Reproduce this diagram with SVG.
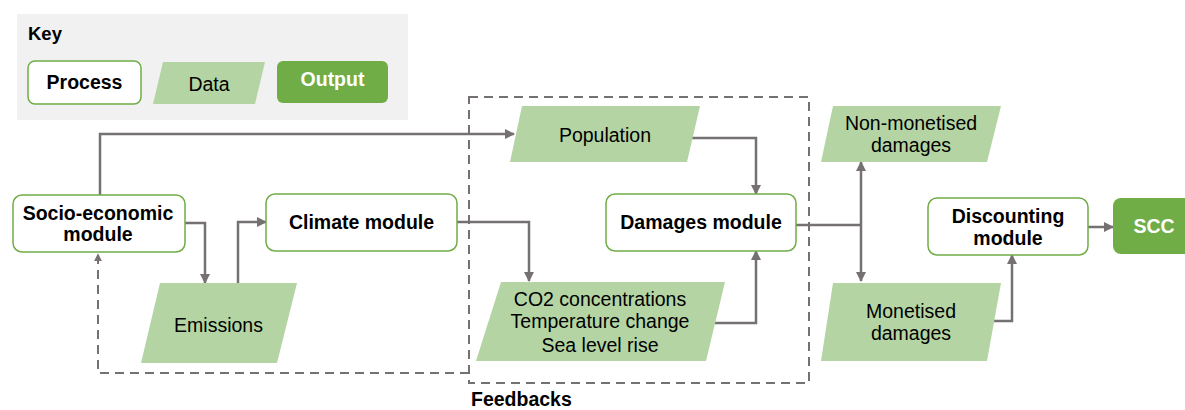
<svg xmlns="http://www.w3.org/2000/svg" width="1185" height="410" viewBox="0 0 1185 410">
  <defs>
    <marker id="arrow" viewBox="0 0 10 10" refX="9" refY="5" markerWidth="4" markerHeight="4" orient="auto" markerUnits="strokeWidth">
      <path d="M0,0 L10,5 L0,10 z" fill="#767171"/>
    </marker>
    <style>
      text { font-family: "Liberation Sans", Arial, sans-serif; fill: #000; font-size: 19.5px; }
      .b { font-weight: bold; }
      .c { text-anchor: middle; }
      .proc { fill: #fff; stroke: #70ad47; stroke-width: 1.5; }
      .data { fill: #b4d5a3; }
      .out { fill: #70ad47; }
      .w { fill: #fff; }
      .conn { fill: none; stroke: #767171; stroke-width: 2.5; }
      .dash { fill: none; stroke: #767171; stroke-width: 2; stroke-dasharray: 9 6; }
    </style>
  </defs>

  <rect width="1185" height="410" fill="#fff"/>

  <!-- Key -->
  <g id="key">
    <rect x="17" y="14" width="391" height="106" fill="#f1f1f1"/>
    <text x="28" y="40" class="b" style="font-size:18.5px">Key</text>
    <rect x="28" y="61" width="113" height="43" rx="7" class="proc"/>
    <text x="84.5" y="89" class="b c">Process</text>
    <polygon points="163,62 265,62 255,104 153,104" class="data"/>
    <text x="209" y="91" class="c">Data</text>
    <rect x="277" y="61" width="111" height="42" rx="6" class="out"/>
    <text x="332.5" y="86" class="b c w">Output</text>
  </g>

  <!-- Connectors -->
  <g id="connectors">
    <!-- feedback loop -->
    <rect x="469" y="97" width="340" height="286" class="dash"/>
    <polyline points="469,373 98,373 98,254" class="dash" marker-end="url(#arrow)"/>
    <!-- socio-economic to population -->
    <polyline points="100,195 100,134 514,134" class="conn" marker-end="url(#arrow)"/>
    <!-- socio-economic to emissions -->
    <polyline points="185,223 205,223 205,283" class="conn" marker-end="url(#arrow)"/>
    <!-- emissions to climate -->
    <polyline points="238,283 238,222 266,222" class="conn" marker-end="url(#arrow)"/>
    <!-- climate to climate outputs -->
    <polyline points="457,222 529,222 529,281" class="conn" marker-end="url(#arrow)"/>
    <!-- population to damages -->
    <polyline points="692,138 756,138 756,194" class="conn" marker-end="url(#arrow)"/>
    <!-- climate outputs to damages -->
    <polyline points="715,323 756,323 756,251" class="conn" marker-end="url(#arrow)"/>
    <!-- damages split -->
    <polyline points="796,225 861,225" class="conn"/>
    <polyline points="861,225 861,162" class="conn" marker-end="url(#arrow)"/>
    <polyline points="861,225 861,281" class="conn" marker-end="url(#arrow)"/>
    <!-- monetised damages to discounting -->
    <polyline points="991,321 1012,321 1012,255" class="conn" marker-end="url(#arrow)"/>
    <!-- discounting to SCC -->
    <polyline points="1088,227 1113,227" class="conn" marker-end="url(#arrow)"/>
  </g>

  <g id="socio-economic">
    <rect x="13" y="195" width="172" height="57" rx="9" class="proc"/>
    <text x="98" y="220" class="b c">Socio-economic</text>
    <text x="98" y="241" class="b c">module</text>
  </g>

  <g id="emissions">
    <polygon points="160,283 297,283 277,363 141,363" class="data"/>
    <text x="218.5" y="332" class="c">Emissions</text>
  </g>

  <g id="climate">
    <rect x="266" y="194" width="191" height="57" rx="9" class="proc"/>
    <text x="361.5" y="229" class="b c">Climate module</text>
  </g>

  <g id="population">
    <polygon points="522,106 700,106 687,162 510,162" class="data"/>
    <text x="605" y="142" class="c">Population</text>
  </g>

  <g id="climate-outputs">
    <polygon points="501,282 725,282 706,361 476,361" class="data"/>
    <text x="600" y="306" class="c">CO2 concentrations</text>
    <text x="600" y="328" class="c">Temperature change</text>
    <text x="600" y="352" class="c">Sea level rise</text>
  </g>

  <g id="damages">
    <rect x="606" y="194" width="190" height="57" rx="9" class="proc"/>
    <text x="701" y="229" class="b c">Damages module</text>
  </g>

  <g id="non-monetised">
    <polygon points="833,106 1001,106 987,162 821,162" class="data"/>
    <text x="911" y="130" class="c">Non-monetised</text>
    <text x="911" y="152" class="c">damages</text>
  </g>

  <g id="monetised">
    <polygon points="833,283 1001,283 987,361 821,361" class="data"/>
    <text x="911" y="318" class="c">Monetised</text>
    <text x="911" y="340" class="c">damages</text>
  </g>

  <g id="discounting">
    <rect x="928" y="198" width="160" height="57" rx="9" class="proc"/>
    <text x="1008" y="223" class="b c">Discounting</text>
    <text x="1008" y="245" class="b c">module</text>
  </g>

  <g id="scc">
    <rect x="1113" y="198" width="82" height="56" rx="8" class="out"/>
    <text x="1154" y="233" class="b c w">SCC</text>
  </g>

  <g id="feedbacks-label">
    <text x="471" y="406" class="b">Feedbacks</text>
  </g>
</svg>
